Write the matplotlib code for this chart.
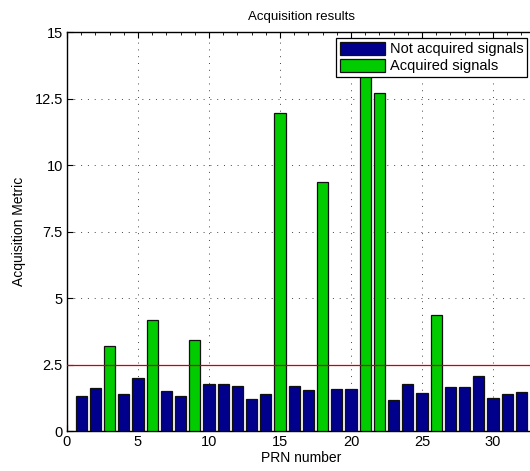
import numpy as np
import matplotlib.pyplot as plt
from matplotlib.ticker import MultipleLocator

plt.rcParams['font.family'] = ['Liberation Sans', 'DejaVu Sans']

# PRN numbers and acquisition metric
prn = list(range(1, 33))
metric = [1.34, 1.62, 3.22, 1.42, 1.99, 4.17, 1.53, 1.31, 3.42, 1.77,
          1.77, 1.69, 1.20, 1.39, 11.98, 1.71, 1.56, 9.38, 1.60, 1.60,
          13.9, 12.71, 1.17, 1.76, 1.45, 4.37, 1.68, 1.65, 2.09, 1.25,
          1.41, 1.49]
acquired = [3, 6, 9, 15, 18, 21, 22, 26]
threshold = 2.5

prn = np.array(prn)
metric = np.array(metric)
is_acq = np.isin(prn, acquired)

fig = plt.figure(figsize=(5.30, 4.71), dpi=100)
ax = fig.add_axes([0.1264, 0.0843, 0.8842, 0.8471])

ax.bar(prn[~is_acq], metric[~is_acq], width=0.8, color='#00008c',
       edgecolor='#101010', linewidth=0.9, label='Not acquired signals', zorder=3)
ax.bar(prn[is_acq], metric[is_acq], width=0.8, color='#00cc00',
       edgecolor='#101010', linewidth=0.9, label='Acquired signals', zorder=3)
ax.axhline(threshold, color='#d00000', linewidth=0.9, zorder=4)

ax.set_xlim(0, 33)
ax.set_ylim(0, 15)
ax.set_xticks([0, 5, 10, 15, 20, 25, 30])
ax.set_yticks([0, 2.5, 5, 7.5, 10, 12.5, 15])
ax.set_yticklabels(['0', '2.5', '5', '7.5', '10', '12.5', '15'])
ax.xaxis.set_minor_locator(MultipleLocator(1))
ax.tick_params(which='both', direction='in', top=True, right=False, labelsize=10.5)
ax.tick_params(which='minor', length=2.5)
ax.tick_params(which='major', length=4, pad=3)
ax.grid(True, linestyle=(0, (1, 6)), color='#444444', linewidth=0.7, zorder=0)
for s in ax.spines.values():
    s.set_linewidth(1.0)

ax.set_title('Acquisition results', fontsize=9.5, pad=9)
ax.set_xlabel('PRN number', fontsize=10, labelpad=1)
ax.set_ylabel('Acquisition Metric', fontsize=10, labelpad=6)

leg = ax.legend(loc='upper right', bbox_to_anchor=(0.9815, 0.985), fontsize=10.5,
                fancybox=False, framealpha=1, edgecolor='black',
                handlelength=3.1, handleheight=1.0, borderpad=0.25,
                labelspacing=0.15, handletextpad=0.3, borderaxespad=0)
leg.get_frame().set_linewidth(0.9)
leg.set_zorder(10)

fig.savefig('out.png', dpi=100)
